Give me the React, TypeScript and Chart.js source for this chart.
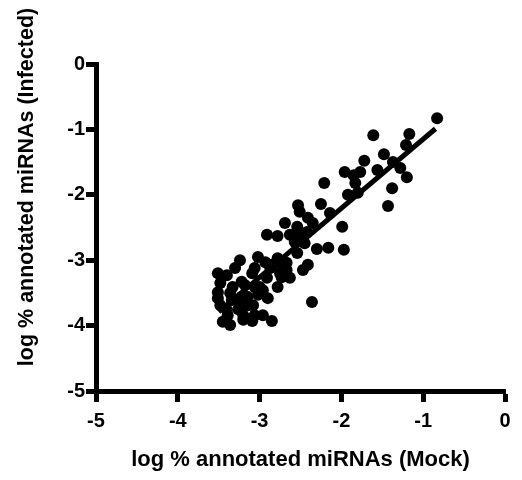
import React, { useEffect, useRef } from "react";
import { Chart, registerables } from "chart.js";

Chart.register(...registerables);

// Scatter data: log % annotated miRNAs (Mock) vs (Infected)
const mockValues = [
  -0.83, -1.61, -1.17, -1.21, -1.48, -1.37, -1.28, -1.20, -1.38, -1.43,
  -1.56, -1.72, -1.77, -1.96, -1.85, -1.83, -1.92, -1.80, -2.21, -2.25,
  -2.14, -2.53, -2.51, -2.41, -2.35, -2.69, -2.54, -1.99, -2.42, -2.51,
  -2.91, -2.78, -2.63, -2.57, -2.45, -2.30, -2.16, -1.97, -2.54, -2.47,
  -2.41, -2.36,
  -3.02, -2.93, -2.78, -2.67, -3.24, -3.30, -3.09, -3.06, -2.87, -2.84,
  -2.71, -2.67, -2.75, -2.91, -2.73, -2.63, -3.51, -3.40, -3.48, -3.33,
  -3.22, -3.18, -3.06, -3.00, -2.96, -2.78, -3.51, -3.36, -3.15, -3.22,
  -3.02, -2.90, -3.51, -3.34, -3.28, -3.48, -3.40, -3.26, -3.24, -3.14,
  -3.08, -3.20, -3.39, -3.06, -2.96, -3.45, -3.36, -3.20, -3.09, -2.85,
];
const infectedValues = [
  -0.83, -1.09, -1.07, -1.24, -1.38, -1.50, -1.59, -1.73, -1.90, -2.17,
  -1.62, -1.48, -1.65, -1.65, -1.70, -1.82, -2.00, -1.97, -1.82, -2.14,
  -2.28, -2.16, -2.26, -2.35, -2.43, -2.43, -2.49, -2.49, -2.57, -2.61,
  -2.61, -2.63, -2.61, -2.72, -2.74, -2.83, -2.81, -2.84, -2.89, -3.15,
  -3.07, -3.64,
  -2.95, -3.03, -2.97, -3.04, -3.00, -3.12, -3.20, -3.12, -3.12, -3.07,
  -3.10, -3.15, -3.20, -3.27, -3.26, -3.27, -3.20, -3.23, -3.35, -3.41,
  -3.33, -3.38, -3.41, -3.41, -3.46, -3.41, -3.49, -3.50, -3.56, -3.56,
  -3.53, -3.58, -3.58, -3.61, -3.61, -3.69, -3.76, -3.75, -3.72, -3.69,
  -3.69, -3.84, -3.84, -3.84, -3.84, -3.94, -3.99, -3.91, -3.93, -3.93,
];

// Regression line endpoints
const fitX = [-3.5, -0.85];
const fitY = [-3.79, -0.99];

const xTitle = "log % annotated miRNAs (Mock)";
const yTitle = "log % annotated miRNAs (Infected)";

const FONT = "'Liberation Sans', Arial, sans-serif";

export default function App() {
  const ref = useRef<HTMLCanvasElement | null>(null);

  useEffect(() => {
    document.body.style.margin = "0";
    const canvas = ref.current;
    if (!canvas) return;

    const yTitlePlugin = {
      id: "yTitle",
      afterDraw(chart: any) {
        const ctx = chart.ctx;
        ctx.save();
        ctx.font = `bold 21.5px ${FONT}`;
        ctx.fillStyle = "#000";
        ctx.textAlign = "center";
        ctx.textBaseline = "middle";
        ctx.translate(27, 187);
        ctx.rotate(-Math.PI / 2);
        ctx.fillText(yTitle, 0, 0);
        ctx.restore();
      },
    };

    const chart = new Chart(canvas, {
      type: "scatter",
      data: {
        datasets: [
          {
            type: "scatter",
            data: mockValues.map((x, i) => ({ x, y: infectedValues[i] })),
            backgroundColor: "#000",
            borderWidth: 0,
            pointRadius: 6,
            pointHoverRadius: 6,
          },
          {
            type: "line",
            data: fitX.map((x, i) => ({ x, y: fitY[i] })),
            borderColor: "#000",
            borderWidth: 5,
            pointRadius: 0,
            showLine: true,
            fill: false,
          } as any,
        ],
      },
      options: {
        animation: false,
        responsive: false,
        layout: { padding: { top: 64, right: 17, left: 0, bottom: 0 } },
        plugins: {
          legend: { display: false },
          tooltip: { enabled: false },
        },
        scales: {
          x: {
            type: "linear",
            min: -5,
            max: 0,
            afterFit(scale: any) {
              scale.height = 89;
            },
            ticks: {
              stepSize: 1,
              color: "#000",
              padding: 7,
              font: { family: FONT, size: 20, weight: "bold" },
            },
            grid: {
              drawOnChartArea: false,
              drawTicks: true,
              tickLength: 11,
              tickWidth: 5,
              tickColor: "#000",
            },
            border: { display: true, width: 5, color: "#000" },
            title: {
              display: true,
              text: xTitle,
              color: "#000",
              font: { family: FONT, size: 22, weight: "bold" },
              padding: { top: 4, bottom: 7 },
            },
          },
          y: {
            type: "linear",
            min: -5,
            max: 0,
            afterFit(scale: any) {
              scale.width = 96;
            },
            ticks: {
              stepSize: 1,
              color: "#000",
              padding: 1,
              font: { family: FONT, size: 20, weight: "bold" },
            },
            grid: {
              drawOnChartArea: false,
              drawTicks: true,
              tickLength: 10,
              tickWidth: 5,
              tickColor: "#000",
            },
            border: { display: true, width: 5, color: "#000" },
          },
        },
      },
      plugins: [yTitlePlugin],
    });

    return () => chart.destroy();
  }, []);

  return <canvas ref={ref} width={522} height={480} style={{ display: "block" }} />;
}
